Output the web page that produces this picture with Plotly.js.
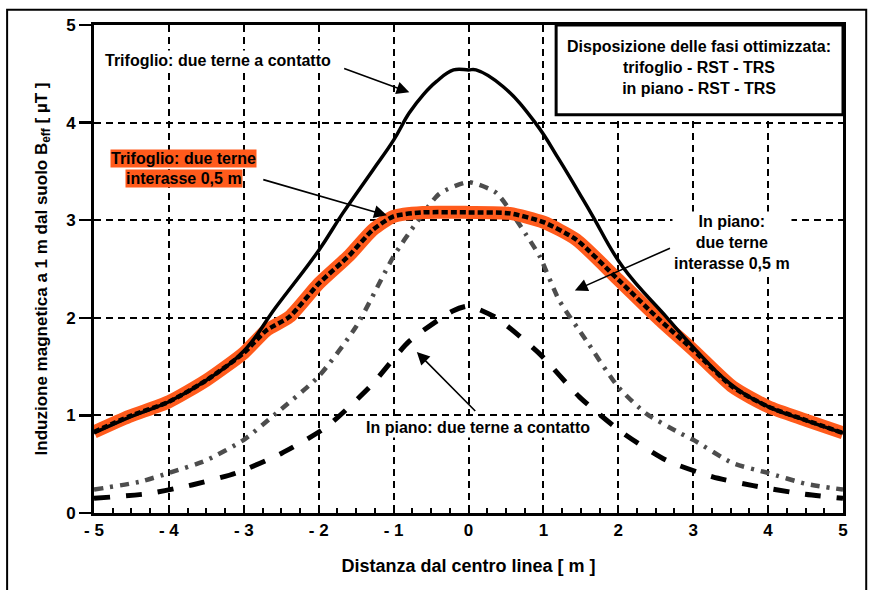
<!DOCTYPE html>
<html>
<head>
<meta charset="utf-8">
<script src="https://cdn.plot.ly/plotly-3.0.1.min.js"></script>
<style>html,body{margin:0;padding:0;background:#fff;}#chart{width:872px;height:590px;}</style>
</head>
<body>
<div id="chart"></div>
<script>
// Trifoglio: due terne a contatto (solid black)
const xTrifoglioContatto = [-5, -4.5, -4, -3.5, -3, -2.57, -2, -1.68, -1.28, -1.0, -0.79, -0.6, -0.43, -0.2, 0, 0.1, 0.46, 0.9, 1.21, 1.53, 1.66, 2.06, 2.64, 3, 3.5, 4, 4.5, 5];
const yTrifoglioContatto = [0.82, 0.99, 1.14, 1.36, 1.66, 2.11, 2.69, 3.07, 3.51, 3.82, 4.10, 4.29, 4.42, 4.54, 4.54, 4.54, 4.37, 3.99, 3.62, 3.21, 3.04, 2.52, 2.01, 1.70, 1.32, 1.09, 0.95, 0.82];
// Trifoglio: due terne interasse 0,5 m (orange band + black dashes)
const xTrifoglioInterasse = [-5, -4.53, -4, -3.5, -3, -2.7, -2.39, -2, -1.59, -1.28, -1, -0.61, 0, 0.55, 1, 1.44, 2, 2.55, 3, 3.53, 4, 4.51, 5];
const yTrifoglioInterasse = [0.83, 0.99, 1.14, 1.36, 1.64, 1.87, 2.01, 2.35, 2.64, 2.90, 3.04, 3.08, 3.08, 3.07, 2.98, 2.80, 2.39, 1.98, 1.67, 1.29, 1.09, 0.95, 0.82];
// In piano: due terne interasse 0,5 m (gray dash-dot)
const xPianoInterasse = [-5, -4.39, -4, -3.5, -3, -2.57, -2, -1.5, -1, -0.7, -0.39, 0, 0.37, 0.77, 0.95, 1.21, 1.57, 2, 2.37, 2.82, 3, 3.53, 4, 4.5, 5];
const yPianoInterasse = [0.24, 0.32, 0.41, 0.54, 0.75, 1.02, 1.40, 1.91, 2.63, 2.97, 3.27, 3.39, 3.28, 2.85, 2.63, 2.18, 1.77, 1.29, 1.02, 0.82, 0.75, 0.51, 0.41, 0.30, 0.24];
// In piano: due terne a contatto (long dashes)
const xPianoContatto = [-5, -4.26, -3.68, -3.1, -2.5, -1.9, -1.32, -0.79, -0.21, 0, 0.37, 0.95, 1.48, 2.06, 2.64, 3.26, 3.8, 4.42, 5];
const yPianoContatto = [0.15, 0.20, 0.29, 0.41, 0.61, 0.88, 1.29, 1.76, 2.07, 2.12, 2.00, 1.63, 1.19, 0.82, 0.54, 0.37, 0.28, 0.20, 0.15];

const xTickVals = [-5, -4, -3, -2, -1, 0, 1, 2, 3, 4, 5];
const xTickText = ['- 5', '- 4', '- 3', '- 2', '- 1', '0', '1', '2', '3', '4', '5'];
const yTickVals = [0, 1, 2, 3, 4, 5];

const FONT = 'Liberation Sans, Arial, sans-serif';
const ORANGE = '#ff5b1c';

const traces = [
  {x: xPianoContatto, y: yPianoContatto, mode: 'lines', line: {color: '#000', width: 5, dash: '16px,16px', shape: 'spline', smoothing: 0.6}, hoverinfo: 'skip'},
  {x: xPianoInterasse, y: yPianoInterasse, mode: 'lines', line: {color: '#4d4d4d', width: 4.5, dash: '9px,7px,3px,7px', shape: 'spline', smoothing: 0.6}, hoverinfo: 'skip'},
  {x: xTrifoglioInterasse, y: yTrifoglioInterasse, mode: 'lines', line: {color: ORANGE, width: 13, shape: 'spline', smoothing: 0.6}, hoverinfo: 'skip'},
  {x: xTrifoglioInterasse, y: yTrifoglioInterasse, mode: 'lines', line: {color: '#000', width: 4.5, dash: '6px,3px', shape: 'spline', smoothing: 0.6}, hoverinfo: 'skip'},
  {x: xTrifoglioContatto, y: yTrifoglioContatto, mode: 'lines', line: {color: '#000', width: 3.5, shape: 'spline', smoothing: 1.2}, hoverinfo: 'skip'}
];

const lblFont = {family: FONT, size: 16, color: '#000'};
const arrowCommon = {showarrow: true, arrowhead: 2, arrowsize: 1.6, arrowwidth: 1.6, arrowcolor: '#000', axref: 'x', ayref: 'y', text: ''};

const annotations = [
  {x: -3.35, y: 4.64, text: '<b>Trifoglio: due terne a contatto</b>', showarrow: false, font: lblFont, bgcolor: '#fff'},
  Object.assign({x: -0.79, y: 4.31, ax: -1.68, ay: 4.56}, arrowCommon),
  {x: -3.80, y: 3.63, text: '<b>Trifoglio: due terne</b>', showarrow: false, font: lblFont, bgcolor: ORANGE, borderpad: 0},
  {x: -3.80, y: 3.43, text: '<b>interasse 0,5 m</b>', showarrow: false, font: lblFont, bgcolor: ORANGE, borderpad: 0},
  Object.assign({x: -1.09, y: 3.05, ax: -2.76, ay: 3.42}, arrowCommon),
  {x: 3.52, y: 2.77, text: '<b>In piano:<br>due terne<br>interasse 0,5 m</b>', showarrow: false, font: lblFont, bgcolor: '#fff', align: 'center'},
  Object.assign({x: 1.42, y: 2.28, ax: 2.71, ay: 2.72}, arrowCommon),
  {x: 0.13, y: 0.88, text: '<b>In piano: due terne a contatto</b>', showarrow: false, font: lblFont, bgcolor: '#fff'},
  Object.assign({x: -0.69, y: 1.65, ax: 0.11, ay: 1.03}, arrowCommon),
  {x: 3.08, y: 4.56, text: '<b>Disposizione delle fasi ottimizzata:<br>trifoglio - RST - TRS<br>in piano - RST - TRS</b>', showarrow: false, font: lblFont, align: 'center'}
];

const shapes = [
  {type: 'rect', xref: 'x', yref: 'y', x0: 1.17, x1: 5, y0: 4.08, y1: 5, fillcolor: '#fff', line: {color: '#000', width: 3}, layer: 'above'},
  {type: 'rect', xref: 'paper', yref: 'paper', x0: -0.116, x1: 1.031, y0: -0.2, y1: 1.031, line: {color: '#000', width: 2}, fillcolor: 'rgba(0,0,0,0)', layer: 'above'}
];

const layout = {
  width: 872, height: 590,
  margin: {l: 94, r: 29, t: 25, b: 77},
  paper_bgcolor: '#fff', plot_bgcolor: '#fff',
  showlegend: false,
  font: {family: FONT, color: '#000'},
  xaxis: {
    range: [-5, 5], tickvals: xTickVals, ticktext: xTickText,
    tickfont: {family: FONT, size: 17, weight: 'bold'},
    ticks: 'inside', ticklen: 6, tickwidth: 2, tickcolor: '#000',
    showline: true, linecolor: '#000', linewidth: 3, mirror: true,
    showgrid: true, gridcolor: '#000', gridwidth: 2, griddash: '7px,5px',
    zeroline: false,
    minor: {dtick: 0.25, ticks: 'inside', ticklen: 5, tickwidth: 2, tickcolor: '#000', showgrid: false},
    title: {text: '<b>Distanza dal centro linea [ m ]</b>', font: {family: FONT, size: 18}, standoff: 20},
    fixedrange: true
  },
  yaxis: {
    range: [0, 5], tickvals: yTickVals,
    tickfont: {family: FONT, size: 17, weight: 'bold'},
    ticks: 'outside', ticklen: 12, tickwidth: 2.5, tickcolor: '#000',
    showline: true, linecolor: '#000', linewidth: 3, mirror: true,
    showgrid: true, gridcolor: '#000', gridwidth: 2, griddash: '7px,5px',
    zeroline: false,
    title: {text: '<b>Induzione magnetica a 1 m dal suolo B<sub>eff</sub> [ µT ]</b>', font: {family: FONT, size: 17}, standoff: 15},
    fixedrange: true
  },
  annotations: annotations,
  shapes: shapes
};

Plotly.newPlot('chart', traces, layout, {staticPlot: true, displayModeBar: false});
</script>
</body>
</html>
